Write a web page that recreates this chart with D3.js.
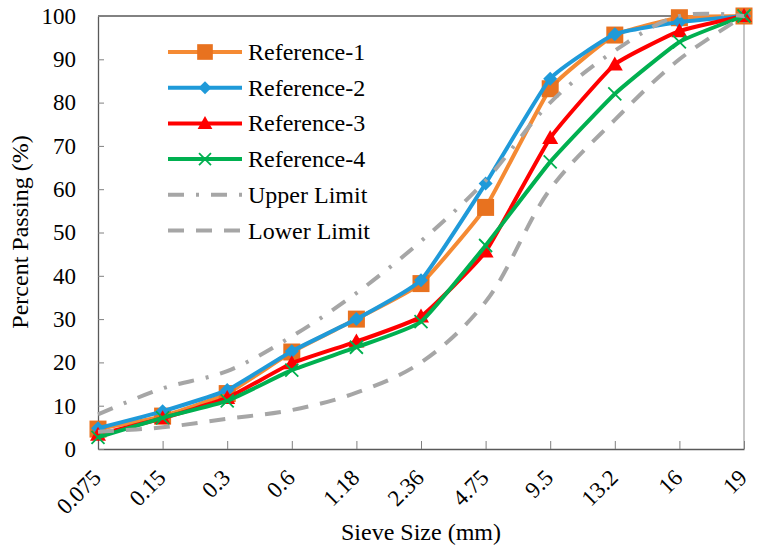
<!DOCTYPE html>
<html>
<head>
<meta charset="utf-8">
<script src="https://cdn.jsdelivr.net/npm/d3@7"></script>
<style>
  #chart text { font-family: 'Liberation Serif', 'Times New Roman', Times, serif !important; }
</style>
</head>
<body style="margin:0">
<svg id="chart" width="761" height="553"></svg>
<script>
// sieve sizes (mm) and percent passing
const sieves = ["0.075", "0.15", "0.3", "0.6", "1.18", "2.36", "4.75", "9.5", "13.2", "16", "19"];
const ref1 = [4.6, 7.6, 12.8, 22.4, 30, 38.2, 55.8, 83.2, 95.6, 99.6, 100];
const ref2 = [4.8, 8.7, 13.6, 22.6, 30, 39, 61.3, 85.5, 95.8, 98.6, 100];
const ref3 = [3.3, 7.1, 11.8, 19.8, 24.8, 30.6, 45.6, 71.8, 88.8, 96.5, 100];
const ref4 = [2.7, 7.2, 11.1, 18.2, 23.5, 29.4, 47, 66.3, 82, 94, 100];
const upper = [8, 14, 18, 26, 36, 48, 62, 80, 92, 100, 100];
const lower = [4, 5, 7, 9, 13, 20, 34, 60, 76, 90, 100];
const yTicks = [0, 10, 20, 30, 40, 50, 60, 70, 80, 90, 100];

const width = 761;
const height = 553;
const margin = { top: 16, right: 17, bottom: 104, left: 98 };
const font = "Times";

const svg = d3.select("#chart");

const xScale = d3.scalePoint()
  .domain(sieves)
  .range([margin.left, width - margin.right])
  .padding(0);

const yScale = d3.scaleLinear()
  .domain([0, 100])
  .range([height - margin.bottom, margin.top]);

const series = [
  { name: "Reference-1", values: ref1, line: "#F58A33", mark: "#E8721F", shape: "square" },
  { name: "Reference-2", values: ref2, line: "#1F9AD9", mark: "#1F9AD9", shape: "diamond" },
  { name: "Reference-3", values: ref3, line: "#FF0000", mark: "#FF0000", shape: "triangle" },
  { name: "Reference-4", values: ref4, line: "#00B050", mark: "#00B050", shape: "cross" },
  { name: "Upper Limit", values: upper, line: "#A6A6A6", dash: "16,12,3,12" },
  { name: "Lower Limit", values: lower, line: "#A6A6A6", dash: "16,12" }
];

// frame
const x0 = margin.left, x1 = width - margin.right;
const y0 = height - margin.bottom, y1 = margin.top;
svg.append("line").attr("x1", x0).attr("x2", x1).attr("y1", y1).attr("y2", y1)
  .attr("stroke", "#595959").attr("stroke-width", 1.3);
svg.append("line").attr("x1", x1).attr("x2", x1).attr("y1", y1).attr("y2", y0)
  .attr("stroke", "#A6A6A6").attr("stroke-width", 1.3);

// axes, ticks pointing inside
const xAxis = svg.append("g")
  .attr("transform", `translate(0, ${y0})`)
  .call(d3.axisBottom(xScale).tickSizeInner(-8).tickSizeOuter(0).tickFormat(""));
xAxis.select(".domain").attr("stroke", "#595959").attr("stroke-width", 1.3);
xAxis.selectAll(".tick line").attr("stroke", "#808080");
xAxis.attr("font-family", font).attr("font-size", 23);

xAxis.selectAll(".tick").append("text")
  .attr("transform", "translate(4, 30) rotate(-45)")
  .attr("text-anchor", "end")
  .attr("fill", "#000")
  .style("font-family", font)
  .style("font-size", "23px")
  .text(d => d);

const yAxis = svg.append("g")
  .attr("transform", `translate(${x0}, 0)`)
  .call(d3.axisLeft(yScale).tickValues(yTicks).tickSizeInner(-6).tickSizeOuter(0).tickPadding(22));
yAxis.select(".domain").attr("stroke", "#595959").attr("stroke-width", 1.3);
yAxis.selectAll(".tick line").attr("stroke", "#808080");
yAxis.attr("font-family", font).attr("font-size", 23);
yAxis.selectAll(".tick text")
  .attr("fill", "#000")
  .style("font-family", font)
  .style("font-size", "23px");

// axis titles
svg.append("text")
  .attr("x", 421)
  .attr("y", 540)
  .attr("text-anchor", "middle")
  .style("font-family", font)
  .style("font-size", "24px")
  .text("Sieve Size (mm)");

svg.append("text")
  .attr("transform", "translate(28, 232) rotate(-90)")
  .attr("text-anchor", "middle")
  .style("font-family", font)
  .style("font-size", "24px")
  .text("Percent Passing (%)");

// markers
function drawMarker(g, s, x, y, scale) {
  const k = scale || 1;
  if (s.shape === "square") {
    const a = 17 * k;
    g.append("rect").attr("x", x - a / 2).attr("y", y - a / 2)
      .attr("width", a).attr("height", a).attr("fill", s.mark);
  } else if (s.shape === "diamond") {
    const a = 7 * k;
    g.append("path")
      .attr("d", `M${x},${y - a}L${x + a},${y}L${x},${y + a}L${x - a},${y}Z`)
      .attr("fill", s.mark);
  } else if (s.shape === "triangle") {
    const a = 8 * k;
    g.append("path")
      .attr("d", `M${x},${y - a}L${x + a},${y + a * 0.75}L${x - a},${y + a * 0.75}Z`)
      .attr("fill", s.mark);
  } else if (s.shape === "cross") {
    const a = 6.5 * k;
    g.append("path")
      .attr("d", `M${x - a},${y - a}L${x + a},${y + a}M${x - a},${y + a}L${x + a},${y - a}`)
      .attr("stroke", s.mark).attr("stroke-width", 1.8).attr("fill", "none");
  }
}

const line = d3.line()
  .x((d, i) => xScale(sieves[i]))
  .y(d => yScale(d));

const plot = svg.append("g");
series.forEach(s => {
  // limits are smooth curves, test gradations only lightly smoothed
  const curve = s.shape ? d3.curveCardinal.tension(0.6) : d3.curveCatmullRom.alpha(0.5);
  plot.append("path")
    .attr("d", line.curve(curve)(s.values))
    .attr("fill", "none")
    .attr("stroke", s.line)
    .attr("stroke-width", 4)
    .attr("stroke-dasharray", s.dash || null);
  if (s.shape) {
    s.values.forEach((v, i) => drawMarker(plot, s, xScale(sieves[i]), yScale(v)));
  }
});

// legend
const legend = svg.append("g");
series.forEach((s, i) => {
  const ly = 52 + i * 35.7;
  legend.append("line")
    .attr("x1", 168).attr("x2", 242)
    .attr("y1", ly).attr("y2", ly)
    .attr("stroke", s.line)
    .attr("stroke-width", 4)
    .attr("stroke-dasharray", s.dash || null);
  if (s.shape) drawMarker(legend, s, 205, ly, 0.92);
  legend.append("text")
    .attr("x", 248)
    .attr("y", ly + 8)
    .attr("fill", "#000")
    .style("font-family", font)
    .style("font-size", "24px")
    .text(s.name);
});
</script>
</body>
</html>
